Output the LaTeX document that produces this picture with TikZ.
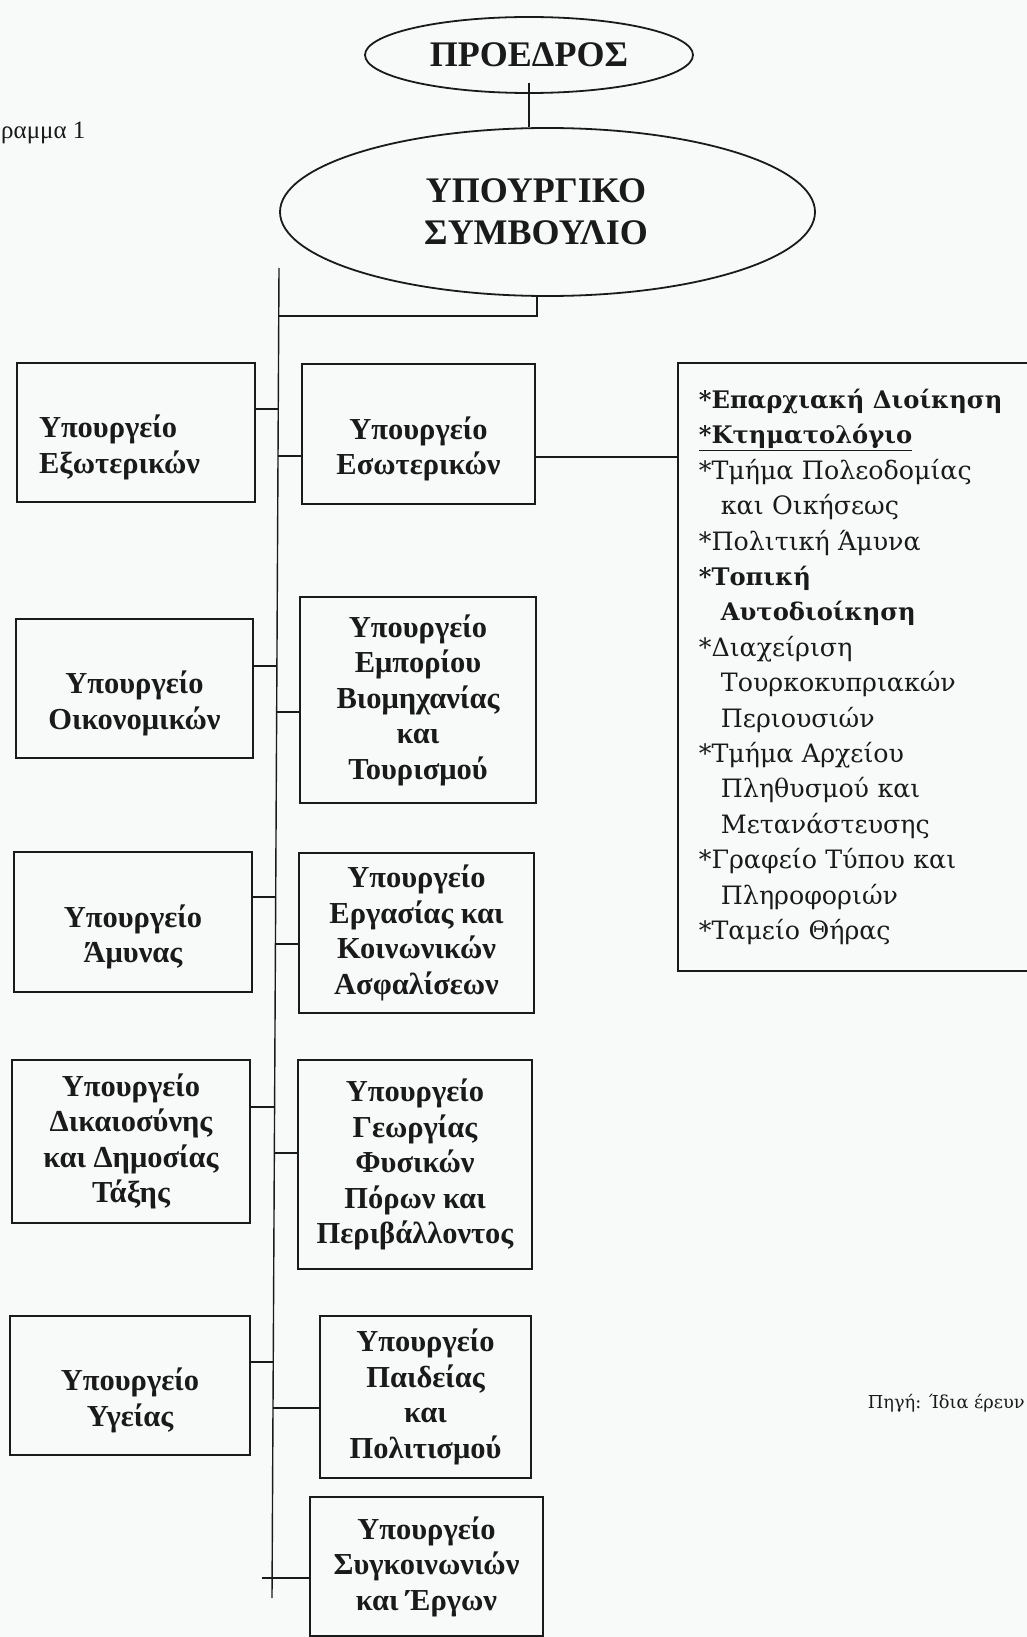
\documentclass[tikz,border=0pt]{standalone}
\usepackage{fontspec}
\setmainfont{Liberation Serif}
\newfontfamily\infofont{DejaVu Serif}
\usetikzlibrary{shapes.geometric,calc}
\definecolor{bg}{RGB}{248,250,250}
\definecolor{ink}{RGB}{26,26,26}
\newcommand\mfont{\bfseries\fontsize{30.5}{35.5}\selectfont}
\newcommand\ofont{\bfseries\fontsize{36}{42}\selectfont}
\newcommand\dn{\rule{0pt}{52pt}}
\newcommand\ibold{\bfseries\fontsize{24.2}{35.4}\selectfont}
\newcommand\ind{\hspace*{22pt}}
\begin{document}
\begin{tikzpicture}[x=1pt,y=-1pt,
  mbox/.style={draw=ink, line width=1.8pt, rectangle, inner sep=0pt, align=center, font=\mfont, text=ink},
  oval/.style={draw=ink, line width=1.8pt, ellipse, inner sep=0pt, align=center, font=\ofont, text=ink},
  conn/.style={draw=ink, line width=1.4pt},
  infobox/.style={draw=ink, line width=1.8pt, rectangle, inner xsep=21pt, inner ysep=0pt, text width=330pt, align=left, font=\infofont\fontsize{25.3}{35.4}\selectfont, text=ink, anchor=north west},
  note/.style={inner sep=0pt, text=ink}]
\fill[bg] (0,0) rectangle (1027,1637);
\useasboundingbox (0,0) rectangle (1027,1637);

% top
\node[oval, minimum width=328pt, minimum height=76pt] (P) at (529,55) {ΠΡΟΕΔΡΟΣ};
\node[oval, minimum width=535pt, minimum height=168pt] (S) at (547.5,212) {ΥΠΟΥΡΓΙΚΟ\rule{23pt}{0pt}\\ΣΥΜΒΟΥΛΙΟ\rule{23pt}{0pt}};
\node[note, anchor=west, font=\fontsize{25}{30}\selectfont] (dg) at (1,133) {ραμμα 1};
\node[note, anchor=east, font=\infofont\fontsize{17.8}{22}\selectfont] (src) at (1025,1403) {Πηγή: Ίδια έρευν};

% left column
\node[mbox, minimum width=238pt, minimum height=139pt, text width=194pt, align=left] (L1) at (136,432.5) {\dn Υπουργείο\\Εξωτερικών};
\node[mbox, minimum width=237pt, minimum height=139pt] (L2) at (134.5,688.5) {\dn Υπουργείο\\Οικονομικών};
\node[mbox, minimum width=238pt, minimum height=140pt] (L3) at (133,922) {\dn Υπουργείο\\Άμυνας};
\node[mbox, minimum width=238pt, minimum height=163pt] (L4) at (131,1141.5) {Υπουργείο\\Δικαιοσύνης\\και Δημοσίας\\Τάξης};
\node[mbox, minimum width=240pt, minimum height=139pt] (L5) at (130,1385.5) {\dn Υπουργείο\\Υγείας};

% right column
\node[mbox, minimum width=233pt, minimum height=140pt] (R1) at (418.5,434) {\dn Υπουργείο\\Εσωτερικών};
\node[mbox, minimum width=236pt, minimum height=206pt] (R2) at (418,700) {Υπουργείο\\Εμπορίου\\Βιομηχανίας\\και\\Τουρισμού};
\node[mbox, minimum width=235pt, minimum height=160pt] (R3) at (416.5,933) {Υπουργείο\\Εργασίας και\\Κοινωνικών\\Ασφαλίσεων};
\node[mbox, minimum width=234pt, minimum height=209pt] (R4) at (415,1164.5) {Υπουργείο\\Γεωργίας\\Φυσικών\\Πόρων και\\Περιβάλλοντος};
\node[mbox, minimum width=211pt, minimum height=162pt] (R5) at (425.5,1397) {Υπουργείο\\Παιδείας\\και\\Πολιτισμού};
\node[mbox, minimum width=233pt, minimum height=139pt] (R6) at (426.5,1566.5) {Υπουργείο\\Συγκοινωνιών\\και Έργων};

% info box
\node[infobox, minimum height=608pt] (I) at (677,362) {%
{\ibold *Επαρχιακή Διοίκηση}\\
{\ibold\underline{*Κτηματολόγιο}}\\
{*}Τμήμα Πολεοδομίας\\
\ind και Οικήσεως\\
{*}Πολιτική Άμυνα\\
{\ibold *Τοπική}\\
\ind{\ibold Αυτοδιοίκηση}\\
{*}Διαχείριση\\
\ind Τουρκοκυπριακών\\
\ind Περιουσιών\\
{*}Τμήμα Αρχείου\\
\ind Πληθυσμού και\\
\ind Μετανάστευσης\\
{*}Γραφείο Τύπου και\\
\ind Πληροφοριών\\
{*}Ταμείο Θήρας};

% trunk and junctions
\coordinate (Ttop) at (279,268);
\coordinate (Tbot) at (272,1598);
\coordinate (J) at (279,316);
\coordinate (t1) at (278.26,409);
\coordinate (t2) at (278.01,456);
\coordinate (t3) at (276.91,666);
\coordinate (t4) at (276.66,712);
\coordinate (t5) at (275.69,897);
\coordinate (t6) at (275.44,944);
\coordinate (t7) at (274.58,1107);
\coordinate (t8) at (274.34,1153);
\coordinate (t9) at (273.24,1362);
\coordinate (t10) at (273.00,1408);
\coordinate (s11) at (262,1578);
\coordinate (ci) at (0,457);

\draw[conn] ([yshift=11pt]P.south) -- (S.north -| P.south);
\draw[conn] (S.south -| 537,0) |- (J);
\draw[conn] (Ttop) -- (Tbot);
\draw[conn] (L1.east |- t1) -- (t1);
\draw[conn] (t2) -- (R1.west |- t2);
\draw[conn] (L2.east |- t3) -- (t3);
\draw[conn] (t4) -- (R2.west |- t4);
\draw[conn] (L3.east |- t5) -- (t5);
\draw[conn] (t6) -- (R3.west |- t6);
\draw[conn] (L4.east |- t7) -- (t7);
\draw[conn] (t8) -- (R4.west |- t8);
\draw[conn] (L5.east |- t9) -- (t9);
\draw[conn] (t10) -- (R5.west |- t10);
\draw[conn] (s11) -- (R6.west |- s11);
\draw[conn] (R1.east |- ci) -- (I.west |- ci);
\end{tikzpicture}
\end{document}
